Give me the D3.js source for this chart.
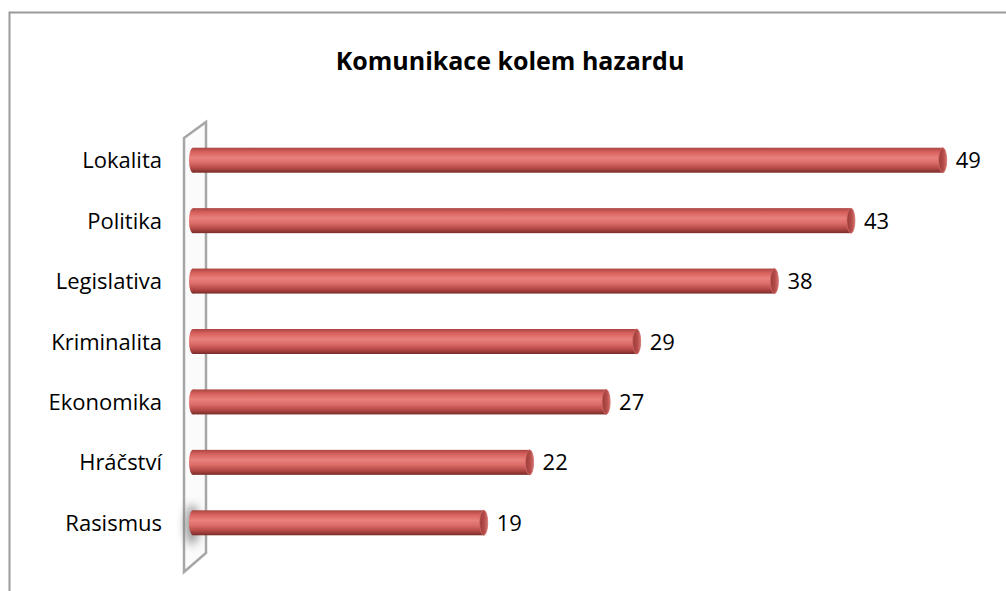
<!DOCTYPE html>
<html>
<head>
<meta charset="utf-8">
<script src="https://cdn.jsdelivr.net/npm/d3@7"></script>
<style>
  html, body { margin: 0; padding: 0; background: #fff; }
  svg { display: block; font-family: "Open Sans", sans-serif; }
</style>
</head>
<body>
<svg id="chart" width="1006" height="591"></svg>
<script>
// chart data
const categories = ["Lokalita", "Politika", "Legislativa", "Kriminalita", "Ekonomika", "Hráčství", "Rasismus"];
const values = [49, 43, 38, 29, 27, 22, 19];
const title = "Komunikace kolem hazardu";

const svg = d3.select("#chart");
const defs = svg.append("defs");

// cylinder shading across the bar height
const grad = defs.append("linearGradient")
  .attr("id", "cyl").attr("x1", 0).attr("y1", 0).attr("x2", 0).attr("y2", 1);
[["0%", "#a94542"], ["16%", "#d65f5b"], ["40%", "#e9817c"], ["60%", "#dc6c68"],
 ["84%", "#b04643"], ["100%", "#772c2a"]].forEach(s => {
  grad.append("stop").attr("offset", s[0]).attr("stop-color", s[1]);
});

const capGrad = defs.append("linearGradient")
  .attr("id", "cap").attr("x1", 0).attr("y1", 0).attr("x2", 1).attr("y2", 0);
[["0%", "#9a3a37"], ["60%", "#b64e4b"], ["100%", "#d77470"]].forEach(s => {
  capGrad.append("stop").attr("offset", s[0]).attr("stop-color", s[1]);
});

defs.append("filter").attr("id", "blur")
  .attr("x", "-100%").attr("y", "-100%").attr("width", "300%").attr("height", "300%")
  .append("feGaussianBlur").attr("stdDeviation", 5);

// outer border
svg.append("rect")
  .attr("x", 9.5).attr("y", 12.5)
  .attr("width", 1100).attr("height", 700)
  .attr("fill", "none").attr("stroke", "#9a9a9a").attr("stroke-width", 2);

// title
svg.append("text")
  .attr("x", 510).attr("y", 70)
  .attr("text-anchor", "middle")
  .attr("font-size", 25).attr("font-weight", "bold")
  .attr("fill", "#000")
  .text(title);

// scales
const x = d3.scaleLinear().domain([0, 50]).range([193, 958]);
const y = d3.scaleBand().domain(categories).range([130, 553])
  .paddingInner(0.6).paddingOuter(0.3);

const barH = 25;
const capRx = 4;

// side wall (3d)
const wx0 = x(0) - 9, wx1 = x(0) + 13;
const wTop = y.range()[0], wBot = y.range()[1];
svg.append("path")
  .attr("d", `M${wx0},${wTop + 8} L${wx1},${wTop - 8} L${wx1},${wBot} L${wx0},${wBot + 19} Z`)
  .attr("fill", "#fbfbfb")
  .attr("stroke", "#a6a6a6").attr("stroke-width", 2.5)
  .attr("stroke-linejoin", "miter");

// soft shadow at the bottom of the wall
svg.append("ellipse")
  .attr("cx", x(0) - 1).attr("cy", y(categories[6]) + y.bandwidth() / 2 + 2)
  .attr("rx", 7).attr("ry", 20)
  .attr("fill", "#777").attr("opacity", 0.75)
  .attr("filter", "url(#blur)");

// bars
const bars = svg.selectAll(".bar")
  .data(categories)
  .enter().append("g")
  .attr("class", "bar")
  .attr("transform", d => "translate(0," + (y(d) + y.bandwidth() / 2) + ")");

bars.append("ellipse")
  .attr("cx", x(0)).attr("cy", 0)
  .attr("rx", capRx).attr("ry", barH / 2)
  .attr("fill", "url(#cyl)");

bars.append("rect")
  .attr("x", x(0)).attr("y", -barH / 2)
  .attr("width", (d, i) => x(values[i]) - x(0))
  .attr("height", barH)
  .attr("fill", "url(#cyl)");

bars.append("ellipse")
  .attr("cx", (d, i) => x(values[i])).attr("cy", 0)
  .attr("rx", capRx).attr("ry", barH / 2)
  .attr("fill", "url(#cap)")
  .attr("stroke", "#cf6a66").attr("stroke-width", 0.8);

// value labels
bars.append("text")
  .attr("x", (d, i) => x(values[i]) + 13)
  .attr("y", 8)
  .attr("font-size", 22)
  .attr("fill", "#000")
  .text((d, i) => values[i]);

// category labels
svg.selectAll(".cat")
  .data(categories)
  .enter().append("text")
  .attr("class", "cat")
  .attr("x", 162)
  .attr("y", d => y(d) + y.bandwidth() / 2 + 8)
  .attr("text-anchor", "end")
  .attr("font-size", 22)
  .attr("fill", "#000")
  .text(d => d);
</script>
</body>
</html>
